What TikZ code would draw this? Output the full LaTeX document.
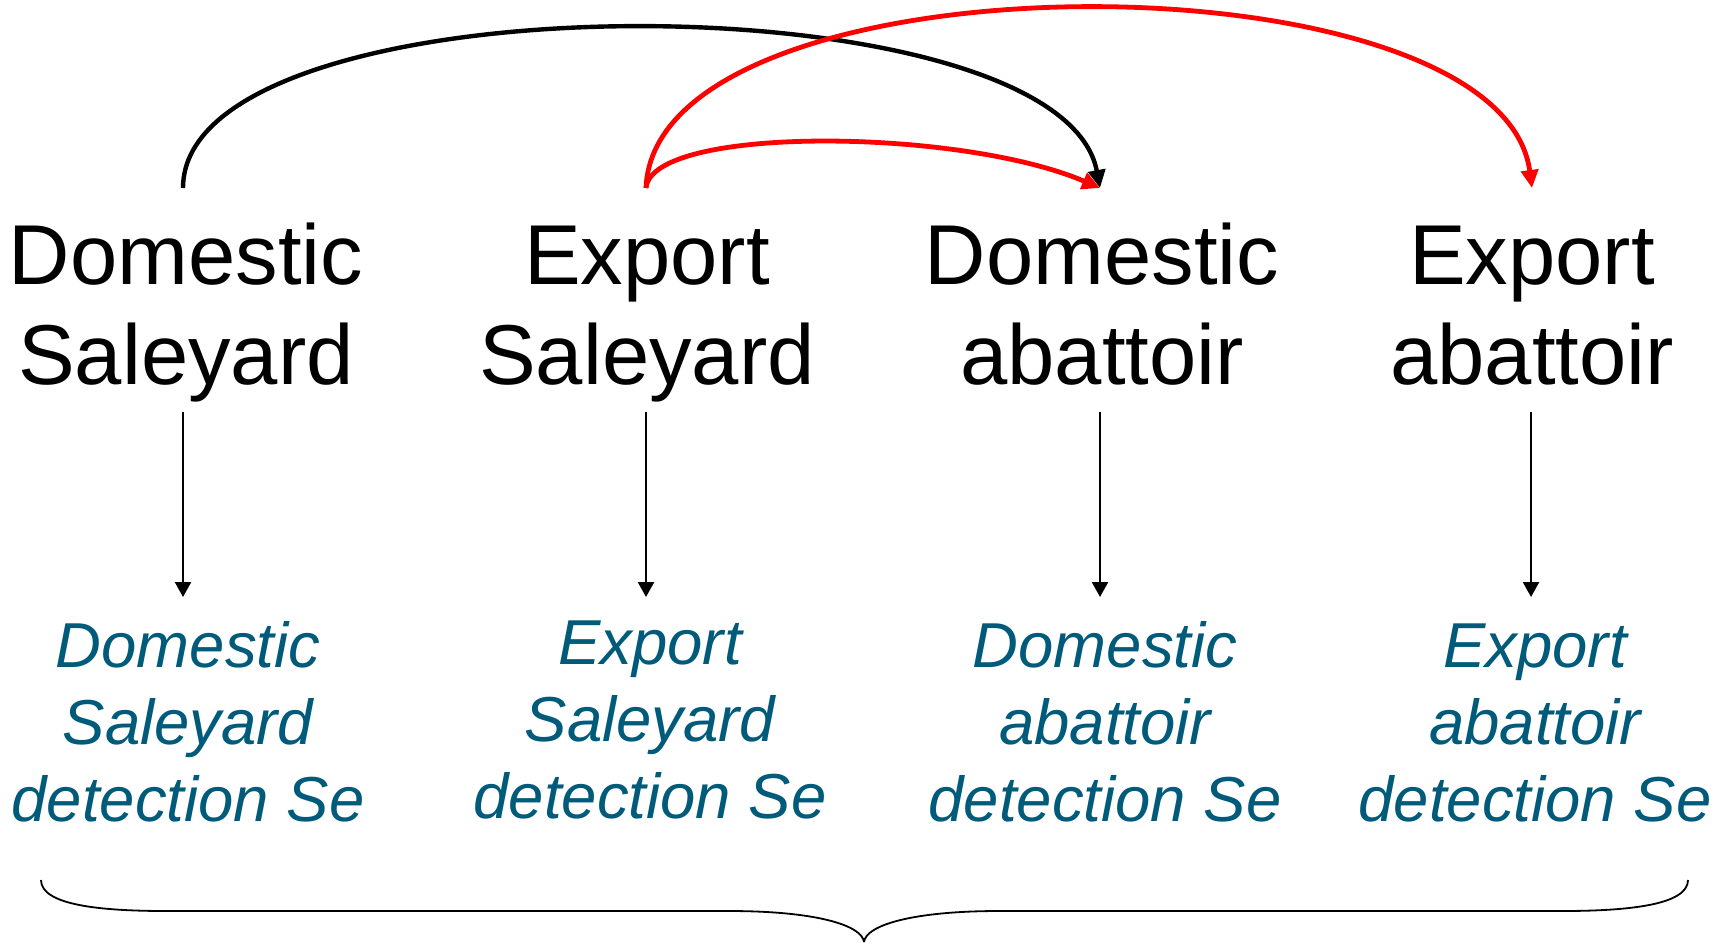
\documentclass[tikz,border=0pt]{standalone}
\usepackage{fontspec}
\setmainfont{Liberation Sans}
\usetikzlibrary{arrows.meta}
\definecolor{teal}{RGB}{0,90,122}
\begin{document}
\begin{tikzpicture}[x=0.5pt,y=-0.5pt,
  mainlbl/.style={align=center,inner sep=0pt,anchor=base,font=\fontsize{42.5}{49.75}\selectfont},
  selbl/.style={align=center,inner sep=0pt,anchor=base,text=teal,font=\fontsize{31.75}{38.5}\selectfont\itshape},
  down/.style={line width=1.2pt,-{Triangle[length=7.5pt,width=8pt]}},
  blackcurve/.style={line width=2.2pt,-{Triangle[length=9pt,width=8.5pt]}},
  redcurve/.style={line width=2.4pt,red,-{Triangle[length=9pt,width=8.5pt]}},
  bracestyle/.style={line width=0.9pt}]
\useasboundingbox (0,0) rectangle (1732,942);
% main labels (anchor = baseline of last line)
\node[mainlbl] (ds) at (186,384) {Domestic\\Saleyard};
\node[mainlbl] (es) at (647,384) {Export\\Saleyard};
\node[mainlbl] (da) at (1102,384) {Domestic\\abattoir};
\node[mainlbl] (ea) at (1532,384) {Export\\abattoir};
% detection labels
\node[selbl] (dsse) at (188,821) {Domestic\\Saleyard\\detection Se};
\node[selbl] (esse) at (650,818) {Export\\Saleyard\\detection Se};
\node[selbl] (dase) at (1105,821) {Domestic\\abattoir\\detection Se};
\node[selbl] (ease) at (1535,821) {Export\\abattoir\\detection Se};
% curve end points
\coordinate (dsTop) at (183,188);
\coordinate (esTop) at (646,188);
\coordinate (daTop) at (1100,188);
\coordinate (eaTop) at (1532,188);
% vertical arrows
\coordinate (dsB) at (183,412); \coordinate (dsE) at (183,597);
\coordinate (esB) at (646,412); \coordinate (esE) at (646,597);
\coordinate (daB) at (1100,412); \coordinate (daE) at (1100,597);
\coordinate (eaB) at (1531,412); \coordinate (eaE) at (1531,597);
\draw[down] (dsB) -- (dsE);
\draw[down] (esB) -- (esE);
\draw[down] (daB) -- (daE);
\draw[down] (eaB) -- (eaE);
% curves
\draw[blackcurve] (dsTop) .. controls (183,-25) and (1060,-25) .. (daTop);
\draw[redcurve] (esTop) .. controls (655,-51) and (1500,-51) .. (eaTop);
\draw[redcurve] (esTop) .. controls (652,125) and (960,128) .. (daTop);
% brace
\coordinate (bl) at (41,880);
\coordinate (br) at (1688,880);
\coordinate (btip) at (864,942);
\draw[bracestyle] (bl) .. controls (41,905) and (100,911) .. (166,911) -- (729,911) .. controls (815,911) and (862,925) .. (btip);
\draw[bracestyle] (br) .. controls (1688,905) and (1628,911) .. (1562,911) -- (999,911) .. controls (913,911) and (866,925) .. (btip);
\end{tikzpicture}
\end{document}
